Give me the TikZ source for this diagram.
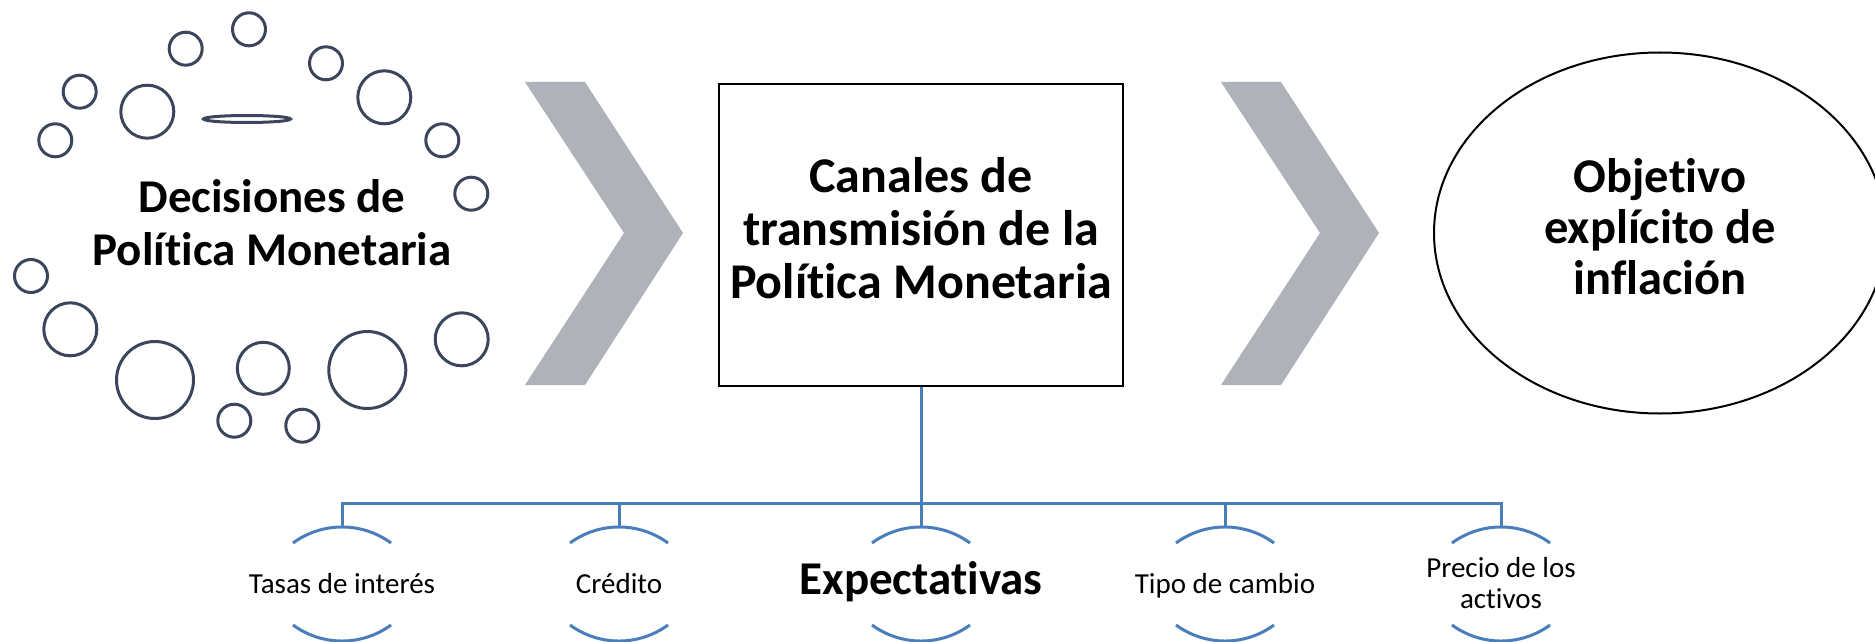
\documentclass[tikz,border=0pt]{standalone}
\usepackage{fontspec}
\setmainfont{Carlito}[Ligatures={NoCommon}]
\usetikzlibrary{shapes.geometric}
\definecolor{chevgray}{RGB}{175,178,184}
\definecolor{dotblue}{RGB}{59,70,92}
\definecolor{treeblue}{RGB}{74,126,187}
\begin{document}
\begin{tikzpicture}[x=1pt,y=-1pt,
  big/.style={font=\bfseries\fontsize{47}{53}\selectfont, align=center, inner sep=0pt},
  boxtext/.style={font=\bfseries\fontsize{50}{53}\selectfont, align=center, inner sep=0pt},
  bigell/.style={font=\bfseries\fontsize{48.5}{51}\selectfont, align=center, inner sep=0pt},
  lab/.style={font=\fontsize{29}{31}\selectfont, align=center, inner sep=0pt},
  chev/.style={fill=chevgray},
  dot/.style={draw=dotblue, line width=3pt},
  tree/.style={draw=treeblue, line width=3pt},
  chanarc/.style={draw=treeblue, line width=3pt}]
\useasboundingbox (0,0) rectangle (1875,642);
\fill[white] (0,0) rectangle (1875,642);

% left cluster of circles
\foreach \x/\y/\r in {249/29.3/16.5, 185.7/48.7/16.5, 326/63.3/16.5, 79.7/91.7/16.5,
  147.3/111.7/26.5, 384.3/97.3/26.5, 55.3/140.3/16.5, 442.3/140.3/16.5,
  471.3/193.7/16.5, 31/276/16.5, 70.3/329.3/26.5, 155/380/38.5,
  263.3/368.3/26, 367.3/370/38.5, 461.7/339.3/26.5, 234.3/420.7/16.5, 302.3/425.7/16.5}
  \draw[dot] (\x,\y) circle[radius=\r];
\draw[dot] (247,119) ellipse[x radius=43.5, y radius=3.5];

\node[big] (dec) at (272,227.9) {\strut Decisiones de\\\strut Política Monetaria};

% chevrons
\fill[chev] (525,82) -- (585,82) -- (683,233) -- (585,385) -- (525,385) -- (624,233) -- cycle;
\fill[chev] (1221,82) -- (1281,82) -- (1379,233) -- (1281,385) -- (1221,385) -- (1320,233) -- cycle;

% central box
\node[boxtext, draw=black, line width=2.5pt, minimum width=404pt, minimum height=302pt]
  (canal) at (921,235) {\strut Canales de\\\strut transmisión de la\\\strut Política Monetaria};

% target ellipse
\node[bigell, ellipse, draw=black, line width=2pt, minimum width=452pt, minimum height=361pt]
  (obj) at (1660,233) {\strut Objetivo\\\strut explícito de\\\strut inflación};

% channels
\node[lab] (c1) at (342,587) {\strut Tasas de interés};
\node[lab] (c2) at (619,587) {\strut Crédito};
\node[big] (c3) at (921,583.4) {\strut Expectativas};
\node[lab] (c4) at (1225,587) {\strut Tipo de cambio};
\node[lab] (c5) at (1501,587) {\strut Precio de los\\\strut activos};

\coordinate (bus) at (921,503);
\coordinate (t1) at (342,526);
\coordinate (t2) at (619,526);
\coordinate (t3) at (921,526);
\coordinate (t4) at (1225,526);
\coordinate (t5) at (1501,526);
\foreach \t in {t1,t2,t3,t4,t5}
  \draw[tree] (canal.south) -- (bus) -| (\t);

\foreach \x in {342,619,921,1225,1501}{
  \draw[chanarc] (\x-49,543) arc[start angle=233.8, end angle=306.2, radius=83];
  \draw[chanarc] (\x-49,625) arc[start angle=126.2, end angle=53.8, radius=83];
}
\end{tikzpicture}
\end{document}
